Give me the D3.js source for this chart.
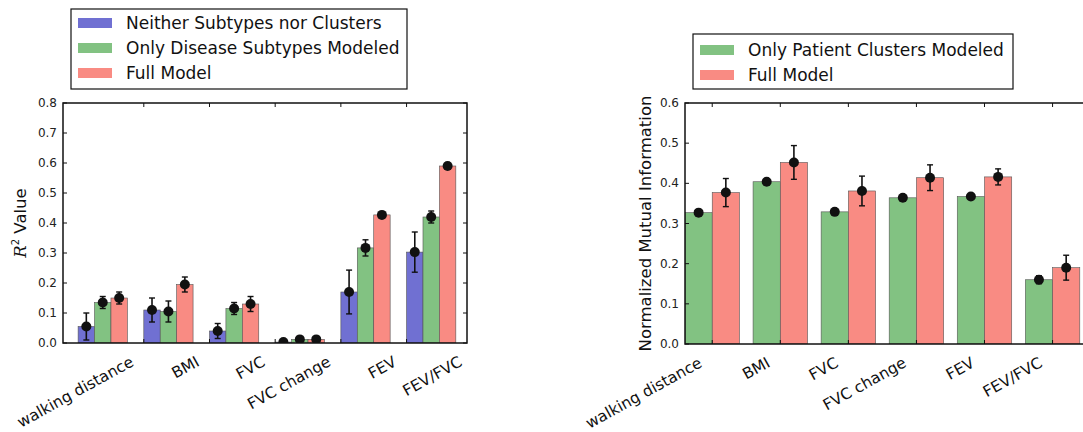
<!DOCTYPE html>
<html>
<head>
<meta charset="utf-8">
<script src="https://cdn.jsdelivr.net/npm/d3@7"></script>
<style>
  body { margin: 0; background: #fff; }
  svg { font-family: "DejaVu Sans", sans-serif; }
</style>
</head>
<body>
<div id="chart"></div>
<script>
// categories shared by both panels
var categories = ["walking distance", "BMI", "FVC", "FVC change", "FEV", "FEV/FVC"];

// left panel: R^2 values
var leftSeries = ["Neither Subtypes nor Clusters", "Only Disease Subtypes Modeled", "Full Model"];
var neitherR2 = [0.055, 0.110, 0.040, 0.003, 0.170, 0.303];
var neitherErr = [0.045, 0.040, 0.025, 0.003, 0.073, 0.067];
var subtypesR2 = [0.135, 0.105, 0.115, 0.012, 0.317, 0.420];
var subtypesErr = [0.020, 0.035, 0.020, 0.005, 0.027, 0.020];
var fullR2 = [0.150, 0.195, 0.130, 0.012, 0.427, 0.590];
var fullR2Err = [0.020, 0.025, 0.025, 0.005, 0.010, 0.010];
var leftTicks = [0.0, 0.1, 0.2, 0.3, 0.4, 0.5, 0.6, 0.7, 0.8];

// right panel: normalized mutual information
var rightSeries = ["Only Patient Clusters Modeled", "Full Model"];
var clustersNMI = [0.327, 0.404, 0.329, 0.364, 0.367, 0.160];
var clustersErr = [0.004, 0.003, 0.004, 0.004, 0.004, 0.010];
var fullNMI = [0.377, 0.452, 0.381, 0.414, 0.416, 0.190];
var fullNMIErr = [0.035, 0.042, 0.037, 0.032, 0.020, 0.031];
var rightTicks = [0.0, 0.1, 0.2, 0.3, 0.4, 0.5, 0.6];

var colors = {blue: "#7070d2", green: "#82c282", red: "#f98b83"};

var svg = d3.select("#chart").append("svg")
  .attr("width", 1083)
  .attr("height", 432);

function drawPanel(opt) {
  var g = svg.append("g");
  var x = d3.scaleLinear().domain(opt.xDomain).range(opt.xRange);
  var y = d3.scaleLinear().domain(opt.yDomain).range(opt.yRange);
  var clipId = "clip" + opt.id;

  g.append("clipPath").attr("id", clipId)
    .append("rect")
    .attr("x", opt.xRange[0]).attr("y", opt.yRange[1])
    .attr("width", opt.xRange[1] - opt.xRange[0])
    .attr("height", opt.yRange[0] - opt.yRange[1]);

  var plot = g.append("g").attr("clip-path", "url(#" + clipId + ")");

  opt.series.forEach(function(s, k) {
    var rows = categories.map(function(c, i) {
      return {i: i, v: s.values[i], e: s.errors[i]};
    });
    plot.selectAll(".bar" + k)
      .data(rows)
      .enter().append("rect")
      .attr("x", function(d) { return x(d.i + k * opt.barWidth); })
      .attr("y", function(d) { return y(d.v); })
      .attr("width", x(opt.barWidth) - x(0))
      .attr("height", function(d) { return y(0) - y(d.v); })
      .attr("fill", s.color)
      .attr("stroke", "#555")
      .attr("stroke-width", 0.6);

    // error bars
    var cx = function(d) { return x(d.i + k * opt.barWidth + opt.barWidth / 2); };
    plot.selectAll(".err" + k)
      .data(rows)
      .enter().append("line")
      .attr("x1", cx).attr("x2", cx)
      .attr("y1", function(d) { return y(d.v - d.e); })
      .attr("y2", function(d) { return y(d.v + d.e); })
      .attr("stroke", "#111").attr("stroke-width", 1.6);
    [-1, 1].forEach(function(sg) {
      plot.selectAll(".cap" + k + sg)
        .data(rows)
        .enter().append("line")
        .attr("x1", function(d) { return cx(d) - 3; })
        .attr("x2", function(d) { return cx(d) + 3; })
        .attr("y1", function(d) { return y(d.v + sg * d.e); })
        .attr("y2", function(d) { return y(d.v + sg * d.e); })
        .attr("stroke", "#111").attr("stroke-width", 1.4);
    });
    plot.selectAll(".dot" + k)
      .data(rows)
      .enter().append("circle")
      .attr("cx", cx)
      .attr("cy", function(d) { return y(d.v); })
      .attr("r", 5)
      .attr("fill", "#111");
  });

  // frame
  g.append("rect")
    .attr("x", opt.xRange[0]).attr("y", opt.yRange[1])
    .attr("width", opt.xRange[1] - opt.xRange[0])
    .attr("height", opt.yRange[0] - opt.yRange[1])
    .attr("fill", "none").attr("stroke", "#111").attr("stroke-width", 1.5);

  // y axis ticks (inward, both sides) + labels
  opt.yTicks.forEach(function(t) {
    g.append("line").attr("x1", opt.xRange[0]).attr("x2", opt.xRange[0] + 4)
      .attr("y1", y(t)).attr("y2", y(t)).attr("stroke", "#111");
    g.append("line").attr("x1", opt.xRange[1]).attr("x2", opt.xRange[1] - 4)
      .attr("y1", y(t)).attr("y2", y(t)).attr("stroke", "#111");
    g.append("text")
      .attr("x", opt.xRange[0] - 6).attr("y", y(t) + 4)
      .attr("text-anchor", "end")
      .attr("font-size", 12).attr("fill", "#222")
      .text(t.toFixed(1));
  });

  // x ticks + rotated labels
  categories.forEach(function(c, i) {
    var tx = x(i + opt.tickOffset);
    if (tx >= opt.xRange[0] && tx <= opt.xRange[1]) {
      g.append("line").attr("x1", tx).attr("x2", tx)
        .attr("y1", opt.yRange[1]).attr("y2", opt.yRange[1] + 4).attr("stroke", "#111");
      g.append("line").attr("x1", tx).attr("x2", tx)
        .attr("y1", opt.yRange[0]).attr("y2", opt.yRange[0] - 4).attr("stroke", "#111");
    }
    g.append("text")
      .attr("transform", "translate(" + (tx - 9) + "," + (opt.yRange[0] + 22) + ") rotate(-29)")
      .attr("text-anchor", "end")
      .attr("font-size", 15.5).attr("fill", "#111")
      .text(c);
  });

  // y label
  var yl = g.append("text")
    .attr("transform", "translate(" + opt.yLabelX + "," + ((opt.yRange[0] + opt.yRange[1]) / 2) + ") rotate(-90)")
    .attr("text-anchor", "middle")
    .attr("font-size", 16.5).attr("fill", "#111");
  opt.yLabel(yl);

  // legend
  var lg = g.append("g");
  lg.append("rect")
    .attr("x", opt.legend.x).attr("y", opt.legend.y)
    .attr("width", opt.legend.w).attr("height", opt.legend.h)
    .attr("fill", "#fff").attr("stroke", "#111").attr("stroke-width", 1.2);
  opt.series.forEach(function(s, k) {
    var ry = opt.legend.y + opt.legend.first + k * 25;
    lg.append("rect")
      .attr("x", opt.legend.x + 7).attr("y", ry - 5)
      .attr("width", 34).attr("height", 10)
      .attr("fill", s.color);
    lg.append("text")
      .attr("x", opt.legend.x + 55).attr("y", ry + 6)
      .attr("font-size", 17).attr("fill", "#111")
      .text(s.name);
  });
}

drawPanel({
  id: "L",
  xDomain: [-0.23, 5.92], xRange: [63, 467],
  yDomain: [0, 0.8], yRange: [343, 103],
  barWidth: 0.25, tickOffset: 1.0,
  yTicks: leftTicks,
  yLabelX: 26,
  yLabel: function(t) {
    t.append("tspan").attr("font-style", "italic").attr("font-family", "DejaVu Serif").text("R");
    t.append("tspan").attr("font-size", 10).attr("dy", -7).text("2");
    t.append("tspan").attr("dy", 7).text(" Value");
  },
  series: [
    {name: leftSeries[0], values: neitherR2, errors: neitherErr, color: colors.blue},
    {name: leftSeries[1], values: subtypesR2, errors: subtypesErr, color: colors.green},
    {name: leftSeries[2], values: fullR2, errors: fullR2Err, color: colors.red}
  ],
  legend: {x: 71, y: 9, w: 336, h: 80, first: 14}
});

drawPanel({
  id: "R",
  xDomain: [0, 5.95], xRange: [685, 1090],
  yDomain: [0, 0.6], yRange: [344, 103],
  barWidth: 0.4, tickOffset: 0.4,
  yTicks: rightTicks,
  yLabelX: 651,
  yLabel: function(t) { t.text("Normalized Mutual Information"); },
  series: [
    {name: rightSeries[0], values: clustersNMI, errors: clustersErr, color: colors.green},
    {name: rightSeries[1], values: fullNMI, errors: fullNMIErr, color: colors.red}
  ],
  legend: {x: 693, y: 34, w: 320, h: 55, first: 16}
});
</script>
</body>
</html>
